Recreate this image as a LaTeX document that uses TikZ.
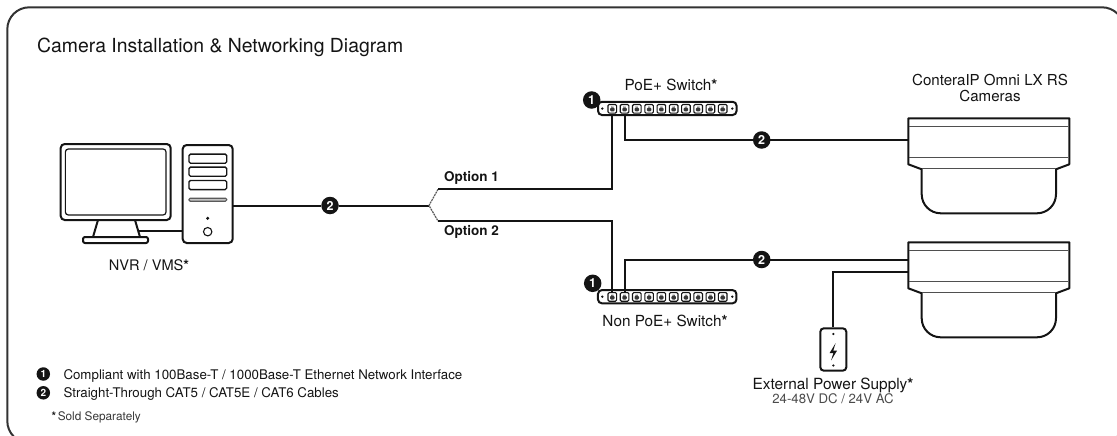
\documentclass[tikz,border=0pt]{standalone}
\usepackage{fontspec}
\setmainfont{TeX Gyre Heros}
\usetikzlibrary{calc}
\definecolor{ink}{HTML}{141414}
\definecolor{frameink}{HTML}{333333}
\definecolor{subtext}{HTML}{4A4A4A}
\newcommand\fsz[1]{\fontsize{#1}{#1}\selectfont}
\newcommand\soldmark{\textbf{*}}

\tikzset{
  cable/.style={line width=2pt, draw=ink},
  devline/.style={line width=2pt, draw=ink, line join=round},
  thinline/.style={line width=1.2pt, draw=ink},
  badge/.style={circle, fill=ink, text=white, inner sep=0pt, minimum size=17.5pt,
    font=\bfseries\fsz{12.5}},
  smallbadge/.style={circle, fill=ink, text=white, inner sep=0pt, minimum size=13.5pt,
    font=\bfseries\fsz{10}},
  label/.style={inner sep=0pt, text=ink},
  switchbody/.style={draw=ink, line width=2pt, fill=white, rounded corners=4pt,
    minimum width=138.5pt, minimum height=13.3pt, inner sep=0pt},
  port/.style={draw=ink, line width=1.1pt, fill=white, rounded corners=1.2pt,
    minimum size=8.6pt, inner sep=0pt,
    path picture={
      \fill[ink!85] ([xshift=-2.3pt,yshift=-2.6pt]path picture bounding box.center)
        rectangle ([xshift=2.3pt,yshift=1.2pt]path picture bounding box.center);
      \fill[ink!85] ([xshift=-1.1pt,yshift=1.2pt]path picture bounding box.center)
        rectangle ([xshift=1.1pt,yshift=2.3pt]path picture bounding box.center);
    }},
  camera/.pic={
    \draw[devline, fill=white]
      (0,0) -- (161,0) -- (161,46) -- (147.7,51) -- (147.7,76)
      .. controls (147.7,86.5) and (139.2,95) .. (128.7,95)
      -- (32.4,95)
      .. controls (21.9,95) and (13.4,86.5) .. (13.4,76)
      -- (13.4,51) -- (0,46) -- cycle;
    \draw[line width=0.9pt, draw=ink!75]
      (1,7.7) -- (160,7.7)
      (1,39.4) -- (160,39.4)
      (13.4,50.6) -- (147.7,50.6);
  }
}

\begin{document}
\begin{tikzpicture}[x=1pt,y=-1pt]
\useasboundingbox (0,0) rectangle (1117,436);

% outer frame
\begin{scope}
  \clip (0,0) rectangle (1117,436);
  \draw[line width=2pt, draw=frameink, rounded corners=22pt] (7.3,7.3) rectangle (1124,443);
\end{scope}

% title
\node[label, anchor=base west, font=\fsz{19.4}] (title) at (37,52.7)
  {Camera Installation \& Networking Diagram};

% ---------- NVR / VMS workstation ----------
\node[draw=ink, line width=2pt, rounded corners=4pt, minimum width=110pt,
  minimum height=76pt, inner sep=0pt] (monitor) at (115.7,182) {};
\node[draw=ink, line width=1.2pt, rounded corners=3pt, minimum width=100.7pt,
  minimum height=66pt, inner sep=0pt] (screen) at (monitor.center) {};
\draw[devline, fill=white] (98,220) -- (135,220) -- (140,237) -- (93,237) -- cycle;
\draw[devline, fill=white, rounded corners=2pt] (83,237) rectangle (148,243);

\node[draw=ink, line width=2pt, rounded corners=4pt, minimum width=50pt,
  minimum height=98pt, inner sep=0pt, fill=white] (tower) at (207.7,194) {};
\foreach \yy in {158.7,171.7,185}
  \draw[line width=1.3pt, draw=ink, rounded corners=1.5pt] (189,\yy-4.6) rectangle (226.7,\yy+4.6);
\draw[line width=1.1pt, draw=ink!70, fill=ink!25, rounded corners=1.2pt] (189,198.2) rectangle (226.7,201.2);
\fill[ink] (207.7,218.3) circle (1.7);
\draw[line width=1.1pt, draw=ink] (207.7,231.7) circle (4.2);

\coordinate (standR) at (138.5,230.5);
\draw[cable] (standR) -- (standR -| tower.west);

\node[label, anchor=base, font=\fsz{14.6}] (nvrlbl) at (149,270) {NVR / VMS\soldmark};

% ---------- uplink and fork ----------
\coordinate (nvrout) at (232.7,205.5);
\coordinate (fork) at (429,205.5);
\coordinate (o1) at (438,189.3);
\coordinate (o2) at (438,221);
\node[badge] (b2a) at (330,205.5) {2};
\draw[cable] (nvrout) -- (b2a);
\draw[cable] (b2a) -- (fork);
\draw[line width=1.2pt, draw=ink!70, dash pattern=on 2pt off 0.8pt] (o1) -- (fork) -- (o2);

\node[label, anchor=base west, font=\bfseries\fsz{13.5}] (opt1) at (444,181.5) {Option 1};
\node[label, anchor=base west, font=\bfseries\fsz{13.5}] (opt2) at (444,235) {Option 2};

% ---------- PoE+ switch ----------
\node[switchbody] (swA) at (667.3,108.4) {};
\foreach \i in {1,...,10}
  \node[port] (pa\i) at ({612.3+(\i-1)*12.27},108.8) {};
\fill[ink] (602.3,108.6) circle (1.3);
\fill[ink] (732.3,108.6) circle (1.3);
\node[badge] (b1a) at (591.7,100) {1};
\node[label, anchor=base, font=\fsz{15.3}] (swAlbl) at (671,90.7) {PoE+ Switch\soldmark};

% ---------- Non PoE+ switch ----------
\node[switchbody] (swB) at (667.2,296.7) {};
\foreach \i in {1,...,10}
  \node[port] (pb\i) at ({612.3+(\i-1)*12.27},296.9) {};
\fill[ink] (602.3,296.7) circle (1.3);
\fill[ink] (732.3,296.7) circle (1.3);
\node[badge] (b1b) at (592.7,283.3) {1};
\node[label, anchor=base, font=\fsz{15.3}] (swBlbl) at (665,326) {Non PoE+ Switch\soldmark};

% option branches into the switches
\draw[cable] (o1) -- (o1 -| pa1) -- (pa1.south);
\draw[cable] (o2) -- (o2 -| pb1) -- (pb1.north);

% ---------- cameras ----------
\pic at (908.3,118.3) {camera};
\pic at (908.3,242.3) {camera};
\coordinate (cam1in) at (908.3,140);
\coordinate (cam2net) at (908.3,259.5);
\coordinate (cam2pwr) at (908.3,272.3);
\node[label, anchor=base, font=\fsz{15.1}] (camlbl1) at (990,85) {ConteraIP Omni LX RS};
\node[label, anchor=base, font=\fsz{15.1}] (camlbl2) at (990,102) {Cameras};

% switch to camera runs
\draw[cable] (pa2.south) -- (pa2.south |- cam1in) -- (cam1in);
\node[badge] (b2b) at (761.7,140) {2};
\draw[cable] (pb2.north) -- (pb2.north |- cam2net) -- (cam2net);
\node[badge] (b2c) at (761.7,259.5) {2};

% ---------- external power supply ----------
\node[draw=ink, line width=2pt, rounded corners=3.5pt, minimum width=26pt,
  minimum height=42.4pt, inner sep=0pt, fill=white] (psu) at (833.3,349.5) {};
\draw[cable] (cam2pwr) -- (cam2pwr -| psu) -- (psu.north);
\fill[ink] (833.3,334) circle (1.2);
\fill[ink] (833.3,365.5) circle (1.2);
\fill[ink] (835.6,343.2) -- (829.6,353) -- (833.4,353) -- (831.1,360.4)
  -- (837.1,350.5) -- (833.3,350.5) -- cycle;
\node[label, anchor=base, font=\fsz{15.4}] (psulbl) at (833,389) {External Power Supply\soldmark};
\node[label, anchor=base, font=\fsz{13.2}, text=subtext] (psuspec) at (833,403) {24-48V DC / 24V AC};

% ---------- legend ----------
\node[smallbadge] (lg1) at (43.3,374) {1};
\node[label, anchor=base west, font=\fsz{13.3}] (lgt1) at (63.3,379.3)
  {Compliant with 100Base-T / 1000Base-T Ethernet Network Interface};
\node[smallbadge] (lg2) at (43.3,392.8) {2};
\node[label, anchor=base west, font=\fsz{13.3}] (lgt2) at (63.3,397.6)
  {Straight-Through CAT5 / CAT5E / CAT6 Cables};
\node[label, anchor=base west, font=\fsz{11.8}] (lgt3) at (51.5,420.5)
  {\soldmark\kern1.5pt\textcolor{ink!85}{Sold Separately}};
\end{tikzpicture}
\end{document}
